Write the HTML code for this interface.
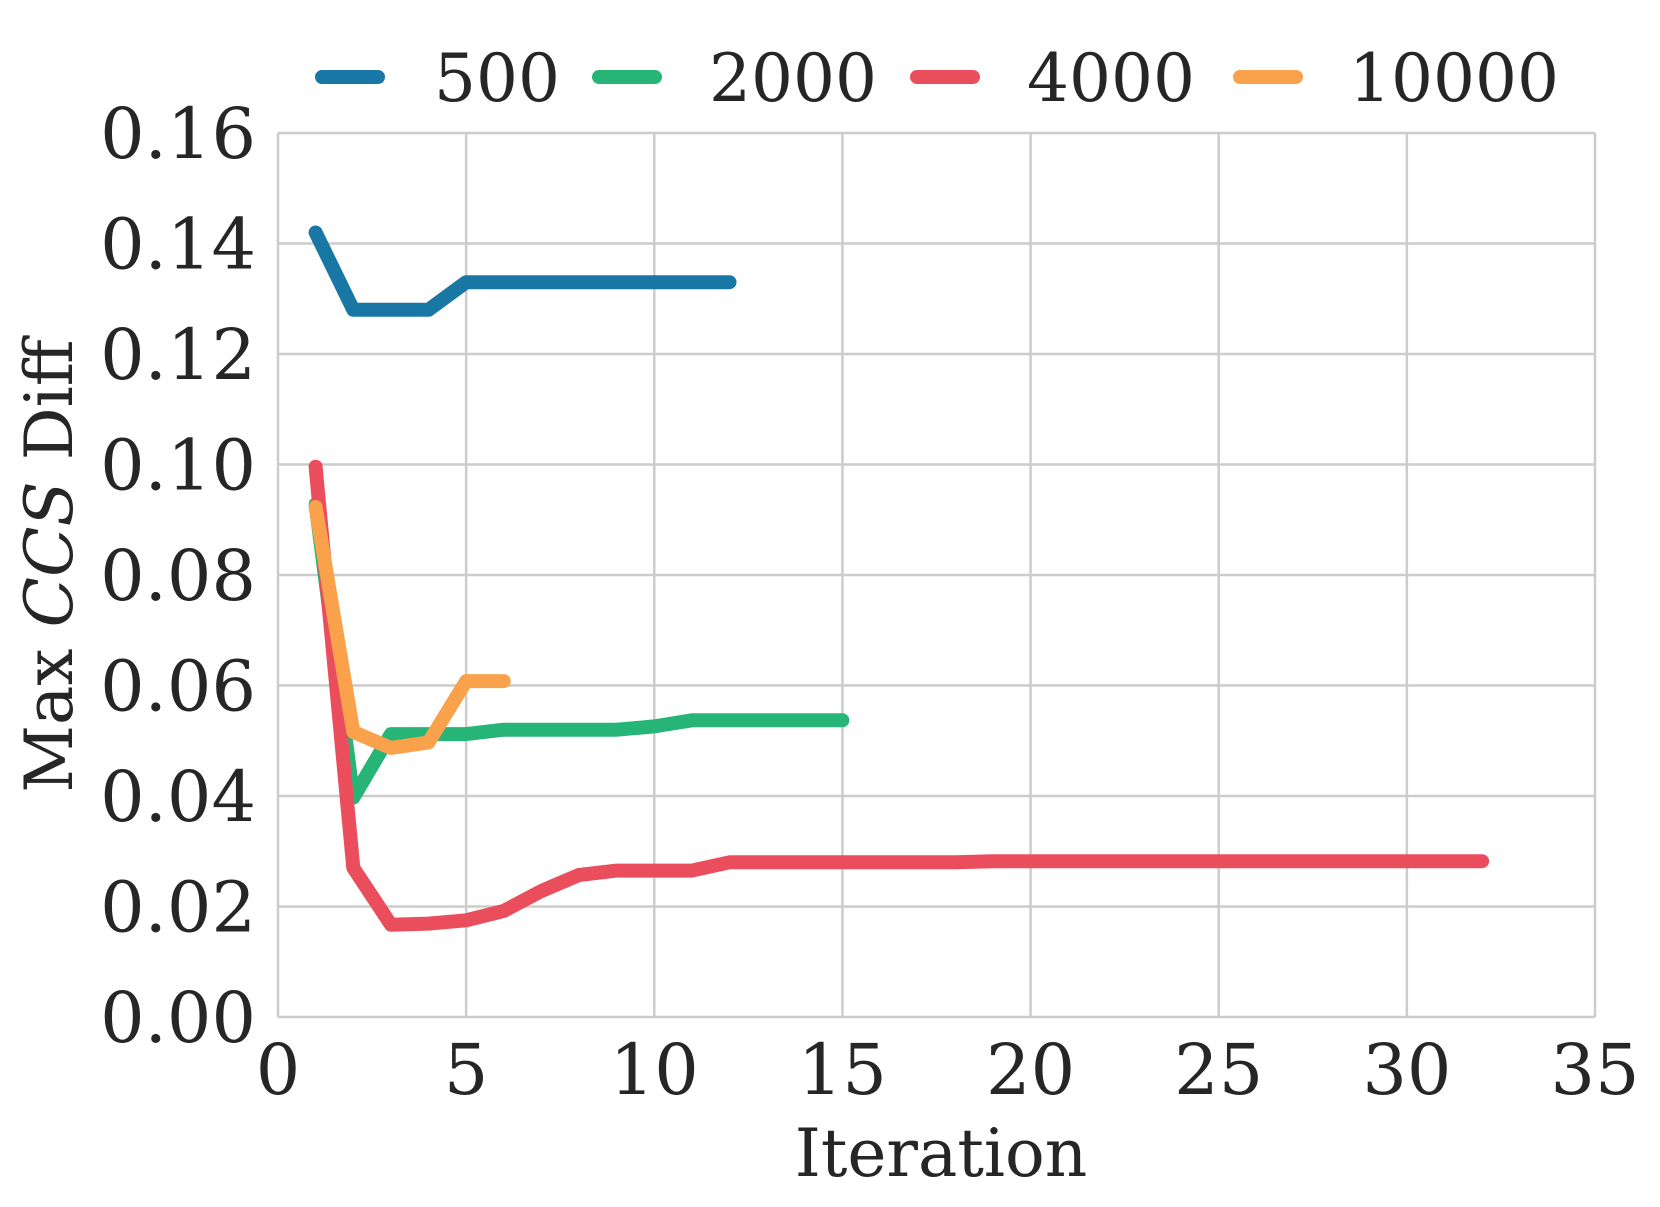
<!DOCTYPE html>
<html><head><meta charset="utf-8"><style>
html,body{margin:0;padding:0;background:#fff;}
svg{display:block;font-family:"DejaVu Serif","Liberation Serif",serif;}
</style></head><body>
<svg id="chart" width="1660" height="1207" viewBox="0 0 1660 1207" xmlns="http://www.w3.org/2000/svg">
<rect width="1660" height="1207" fill="#fff"/>
<g id="grid"></g>
<g id="axes"></g>
<g id="series"></g>
<g id="legend"></g>
<text x="941" y="1176" font-size="66" fill="#262626" text-anchor="middle">Iteration</text>
<text transform="translate(72,566) rotate(-90)" font-size="66" fill="#262626" text-anchor="middle">Max <tspan font-style="italic">CCS</tspan> Diff</text>
</svg>
<script>
const xTicks=[0,5,10,15,20,25,30,35];
const yTicks=[0,0.02,0.04,0.06,0.08,0.10,0.12,0.14,0.16];
const yTickLabels=["0.00","0.02","0.04","0.06","0.08","0.10","0.12","0.14","0.16"];
const seriesNames=["500","2000","4000","10000"];
const seriesColors=["#1877a5","#27b577","#ea4e5d","#f9a24b"];
const s500=[0.142,0.128,0.128,0.128,0.133,0.133,0.133,0.133,0.133,0.133,0.133,0.133];
const s2000=[0.0928,0.0397,0.0512,0.0512,0.0512,0.052,0.052,0.052,0.052,0.0526,0.0537,0.0537,0.0537,0.0537,0.0537];
const s4000=[0.0996,0.027,0.0167,0.0169,0.0175,0.0192,0.0228,0.0257,0.0265,0.0265,0.0265,0.028,0.028,0.028,0.028,0.028,0.028,0.028,0.0282,0.0282,0.0282,0.0282,0.0282,0.0282,0.0282,0.0282,0.0282,0.0282,0.0282,0.0282,0.0282,0.0282];
const s10000=[0.0923,0.0516,0.0487,0.0497,0.0608,0.0608];
const allSeries=[s500,s2000,s4000,s10000];

const L=278,R=1595,T=133,B=1017;
const xs=v=>L+(v-0)/(35-0)*(R-L);
const ys=v=>B-(v-0)/(0.16-0)*(B-T);
const NS="http://www.w3.org/2000/svg";
function mk(tag,attrs,parent){const e=document.createElementNS(NS,tag);for(const k in attrs)e.setAttribute(k,attrs[k]);parent.appendChild(e);return e;}
const grid=document.getElementById('grid'),axes=document.getElementById('axes'),ser=document.getElementById('series'),leg=document.getElementById('legend');
xTicks.forEach(t=>{
  const l=mk('line',{x1:xs(t),x2:xs(t),y1:T,y2:B,stroke:'#cccccc','stroke-width':2.5},grid);
  
  
  const tx=mk('text',{x:xs(t),y:1094,'font-size':70,fill:'#262626','text-anchor':'middle'},axes);
  tx.textContent=t;
  
  
});
yTicks.forEach((t,i)=>{
  const l=mk('line',{x1:L,x2:R,y1:ys(t),y2:ys(t),stroke:'#cccccc','stroke-width':2.5},grid);
  
  
  const tx=mk('text',{x:256,y:ys(t)+25,'font-size':70,fill:'#262626','text-anchor':'end'},axes);
  tx.textContent=yTickLabels[i];
  
  
});
allSeries.forEach((s,i)=>{
  const pts=s.map((v,j)=>xs(j+1).toFixed(1)+','+ys(v).toFixed(1)).join(' ');
  const p=mk('polyline',{points:pts,fill:'none',stroke:seriesColors[i],'stroke-width':14,'stroke-linejoin':'round','stroke-linecap':'round'},ser);
  
  
});
const legLineX=[322,599,917,1240];
const legTextX=[434,709,1027,1349];
seriesNames.forEach((n,i)=>{
  const l=mk('line',{x1:legLineX[i],x2:legLineX[i]+56,y1:77,y2:77,stroke:seriesColors[i],'stroke-width':14,'stroke-linecap':'round'},leg);
  
  
  const tx=mk('text',{x:legTextX[i],y:101,'font-size':66,fill:'#262626'},leg);
  tx.textContent=n;
  
  
});
</script>
</body></html>
